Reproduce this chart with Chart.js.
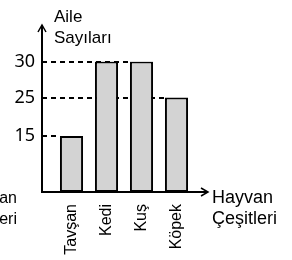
<!DOCTYPE html>
<html>
<head>
<meta charset="utf-8">
<script src="https://cdn.jsdelivr.net/npm/chart.js@4"></script>
<style>
  body { margin: 0; background: #fff; }
  #wrap { width: 292px; height: 260px; }
</style>
</head>
<body>
<div id="wrap"><canvas id="chart-hayvanlar" width="292" height="260"></canvas></div>
<script>
const animals = ['Tavşan', 'Kedi', 'Kuş', 'Köpek'];
const families = [15, 30, 30, 25];
const yTicks = [15, 25, 30];

const FONT = 'Arial, "Liberation Sans", sans-serif';
// Liberation's "1" has a foot, the reference digits don't
const DIGIT_FONT = '"Noto Sans", Arial, sans-serif';
Chart.defaults.font.family = FONT;
Chart.defaults.color = '#000';

// the drawing is schematic: tick spacing is not linear, so map value -> pixel piecewise
class GuideScale extends Chart.LinearScale {
  static id = 'guide';
  static defaults = Chart.LinearScale.defaults;

  _frac(value) {
    const stops = this.options.stops;
    if (value <= stops[0][0]) return stops[0][1];
    for (let i = 1; i < stops.length; i++) {
      const [v0, f0] = stops[i - 1];
      const [v1, f1] = stops[i];
      if (value <= v1) return f0 + (value - v0) / (v1 - v0) * (f1 - f0);
    }
    return stops[stops.length - 1][1];
  }
  getPixelForValue(value) {
    return this.bottom - this._frac(value) * (this.bottom - this.top);
  }
  getValueForPixel(pixel) {
    const f = (this.bottom - pixel) / (this.bottom - this.top);
    const stops = this.options.stops;
    for (let i = 1; i < stops.length; i++) {
      const [v0, f0] = stops[i - 1];
      const [v1, f1] = stops[i];
      if (f <= f1) return v0 + (f - f0) / (f1 - f0) * (v1 - v0);
    }
    return this.max;
  }
}
Chart.register(GuideScale);

const axesPlugin = {
  id: 'axes',
  beforeDatasetsDraw(chart) {
    const ctx = chart.ctx;
    const y = chart.scales.y;
    const bars = chart.getDatasetMeta(0).data;
    const axisX = chart.chartArea.left - 12;
    ctx.save();
    ctx.strokeStyle = '#000';
    ctx.lineWidth = 1.8;
    ctx.setLineDash([5, 4]);
    yTicks.forEach(v => {
      const idx = families.lastIndexOf(v);
      if (idx < 0) return;
      const bar = bars[idx];
      const py = Math.round(y.getPixelForValue(v));
      ctx.beginPath();
      ctx.moveTo(axisX, py);
      ctx.lineTo(bar.x - bar.width / 2, py);
      ctx.stroke();
    });
    ctx.restore();
  },
  afterDraw(chart) {
    const ctx = chart.ctx;
    const area = chart.chartArea;
    const ax = area.left - 12;
    const ay = area.bottom;
    const topY = 25;
    const endX = 208;
    ctx.save();
    ctx.strokeStyle = '#000';
    ctx.lineWidth = 2;
    ctx.beginPath();
    ctx.moveTo(ax, topY);
    ctx.lineTo(ax, ay);
    ctx.lineTo(endX, ay);
    ctx.stroke();
    ctx.lineWidth = 1.5;
    ctx.beginPath();
    ctx.moveTo(ax - 4, topY + 7);
    ctx.lineTo(ax, topY);
    ctx.lineTo(ax + 4, topY + 7);
    ctx.moveTo(endX - 7, ay - 4);
    ctx.lineTo(endX, ay);
    ctx.lineTo(endX - 7, ay + 4);
    ctx.stroke();

    ctx.fillStyle = '#000';
    ctx.textBaseline = 'alphabetic';
    ctx.font = '17px ' + FONT;
    ctx.textAlign = 'left';
    ctx.fillText('Aile', 54, 21.5);
    ctx.fillText('Sayıları', 54, 42.5);

    ctx.font = '18px ' + FONT;
    ctx.fillText('Hayvan', 212, 203);
    ctx.fillText('Çeşitleri', 212, 223.5);
    ctx.font = '16px ' + FONT;
    ctx.textAlign = 'right';
    ctx.fillText('Hayvan', 17, 203);
    ctx.fillText('Çeşitleri', 17, 223.5);
    ctx.restore();
  }
};

new Chart(document.getElementById('chart-hayvanlar'), {
  type: 'bar',
  data: {
    labels: animals,
    datasets: [{
      data: families,
      backgroundColor: '#d3d3d3',
      borderColor: '#000',
      borderWidth: 2,
      borderSkipped: false,
      barPercentage: 0.66,
      categoryPercentage: 1
    }]
  },
  options: {
    responsive: false,
    animation: false,
    devicePixelRatio: 1,
    layout: { padding: { top: 61.5, right: 98, left: 0, bottom: 0 } },
    plugins: {
      legend: { display: false },
      title: { display: false },
      tooltip: { enabled: false }
    },
    scales: {
      x: {
        grid: { display: false, drawTicks: false },
        border: { display: false },
        afterFit: s => { s.height = 68; },
        ticks: {
          color: '#000',
          font: { family: FONT, size: 16 },
          minRotation: 90,
          maxRotation: 90,
          autoSkip: false,
          padding: 12
        }
      },
      y: {
        type: 'guide',
        min: 0,
        max: 30,
        stops: [[0, 0], [15, 0.429], [25, 0.724], [30, 1]],
        grid: { display: false, drawTicks: false },
        border: { display: false },
        afterFit: s => { s.width = 54; },
        afterBuildTicks: s => { s.ticks = yTicks.map(v => ({ value: v })); },
        ticks: {
          color: '#000',
          font: { family: DIGIT_FONT, size: 18 },
          padding: 19
        }
      }
    }
  },
  plugins: [axesPlugin]
});
</script>
</body>
</html>
